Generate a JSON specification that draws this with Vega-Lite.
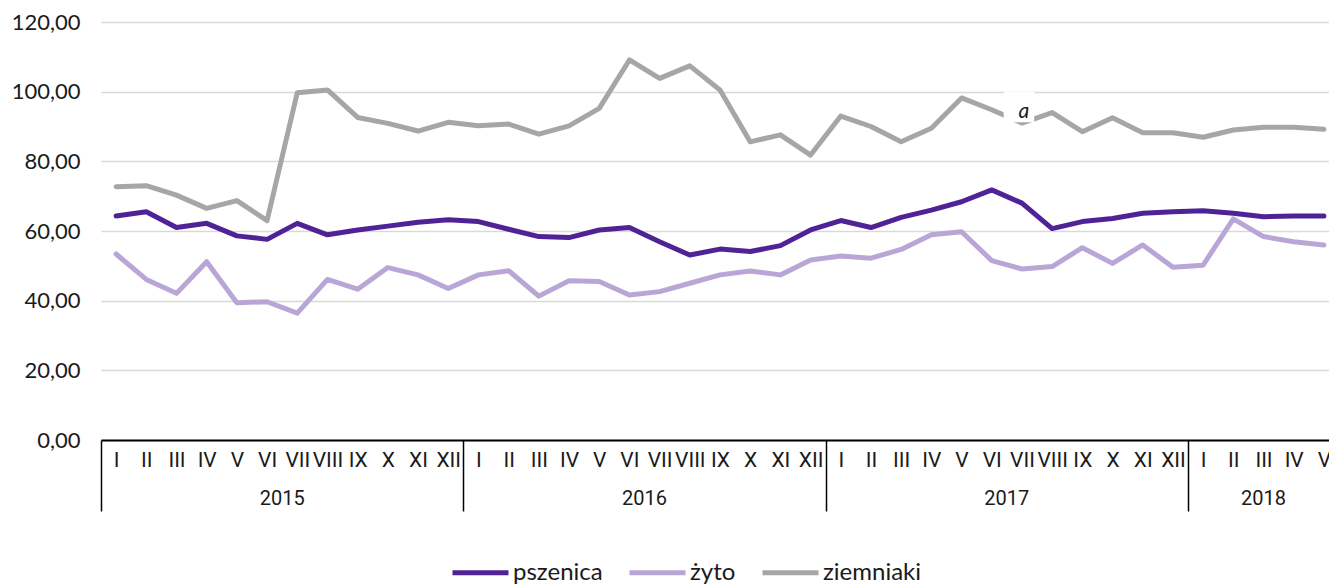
{
  "$schema": "https://vega.github.io/schema/vega-lite/v6.json",
  "autosize": "none",
  "width": 1228,
  "height": 418,
  "padding": {"left": 101, "top": 22, "right": 0, "bottom": 145},
  "background": "#ffffff",
  "config": {"view": {"stroke": null}, "font": "Lato"},
  "datasets": {
    "prices": [
      {"m": "2015-I", "pszenica": 64.3, "żyto": 53.4, "ziemniaki": 72.7},
      {"m": "2015-II", "pszenica": 65.5, "żyto": 46.1, "ziemniaki": 73.0},
      {"m": "2015-III", "pszenica": 61.0, "żyto": 42.1, "ziemniaki": 70.3},
      {"m": "2015-IV", "pszenica": 62.2, "żyto": 51.2, "ziemniaki": 66.5},
      {"m": "2015-V", "pszenica": 58.6, "żyto": 39.4, "ziemniaki": 68.7},
      {"m": "2015-VI", "pszenica": 57.6, "żyto": 39.7, "ziemniaki": 63.0},
      {"m": "2015-VII", "pszenica": 62.2, "żyto": 36.4, "ziemniaki": 99.7},
      {"m": "2015-VIII", "pszenica": 58.9, "żyto": 46.1, "ziemniaki": 100.5},
      {"m": "2015-IX", "pszenica": 60.3, "żyto": 43.3, "ziemniaki": 92.6},
      {"m": "2015-X", "pszenica": 61.4, "żyto": 49.5, "ziemniaki": 90.9},
      {"m": "2015-XI", "pszenica": 62.5, "żyto": 47.4, "ziemniaki": 88.7},
      {"m": "2015-XII", "pszenica": 63.2, "żyto": 43.5, "ziemniaki": 91.2},
      {"m": "2016-I", "pszenica": 62.7, "żyto": 47.4, "ziemniaki": 90.2},
      {"m": "2016-II", "pszenica": 60.5, "żyto": 48.6, "ziemniaki": 90.7},
      {"m": "2016-III", "pszenica": 58.4, "żyto": 41.3, "ziemniaki": 87.8},
      {"m": "2016-IV", "pszenica": 58.1, "żyto": 45.7, "ziemniaki": 90.2},
      {"m": "2016-V", "pszenica": 60.3, "żyto": 45.5, "ziemniaki": 95.2},
      {"m": "2016-VI", "pszenica": 61.0, "żyto": 41.6, "ziemniaki": 109.1},
      {"m": "2016-VII", "pszenica": 56.9, "żyto": 42.6, "ziemniaki": 103.8},
      {"m": "2016-VIII", "pszenica": 53.1, "żyto": 45.0, "ziemniaki": 107.4},
      {"m": "2016-IX", "pszenica": 54.8, "żyto": 47.4, "ziemniaki": 100.5},
      {"m": "2016-X", "pszenica": 54.1, "żyto": 48.5, "ziemniaki": 85.6},
      {"m": "2016-XI", "pszenica": 55.8, "żyto": 47.4, "ziemniaki": 87.6},
      {"m": "2016-XII", "pszenica": 60.3, "żyto": 51.7, "ziemniaki": 81.8},
      {"m": "2017-I", "pszenica": 63.0, "żyto": 52.8, "ziemniaki": 93.0},
      {"m": "2017-II", "pszenica": 61.0, "żyto": 52.2, "ziemniaki": 90.0},
      {"m": "2017-III", "pszenica": 63.9, "żyto": 54.7, "ziemniaki": 85.6},
      {"m": "2017-IV", "pszenica": 66.0, "żyto": 58.9, "ziemniaki": 89.5},
      {"m": "2017-V", "pszenica": 68.4, "żyto": 59.8, "ziemniaki": 98.2},
      {"m": "2017-VI", "pszenica": 71.8, "żyto": 51.5, "ziemniaki": 94.8},
      {"m": "2017-VII", "pszenica": 68.0, "żyto": 49.1, "ziemniaki": 91.0},
      {"m": "2017-VIII", "pszenica": 60.7, "żyto": 49.8, "ziemniaki": 94.0},
      {"m": "2017-IX", "pszenica": 62.7, "żyto": 55.2, "ziemniaki": 88.5},
      {"m": "2017-X", "pszenica": 63.6, "żyto": 50.7, "ziemniaki": 92.5},
      {"m": "2017-XI", "pszenica": 65.1, "żyto": 56.0, "ziemniaki": 88.2},
      {"m": "2017-XII", "pszenica": 65.5, "żyto": 49.6, "ziemniaki": 88.2},
      {"m": "2018-I", "pszenica": 65.8, "żyto": 50.2, "ziemniaki": 86.9},
      {"m": "2018-II", "pszenica": 65.1, "żyto": 63.5, "ziemniaki": 89.0},
      {"m": "2018-III", "pszenica": 64.1, "żyto": 58.4, "ziemniaki": 89.8},
      {"m": "2018-IV", "pszenica": 64.3, "żyto": 56.9, "ziemniaki": 89.8},
      {"m": "2018-V", "pszenica": 64.3, "żyto": 56.0, "ziemniaki": 89.2}
    ],
    "yearsFull": [
      {"year": "2015", "m": "2015-VI"},
      {"year": "2016", "m": "2016-VI"},
      {"year": "2017", "m": "2017-VI"}
    ],
    "yearsPart": [
      {"year": "2018", "m": "2018-III"}
    ],
    "notes": [
      {"m": "2017-VII", "value": 91.0, "note": "a"}
    ]
  },
  "layer": [
    {
      "data": {"name": "prices"},
      "transform": [{"fold": ["pszenica", "żyto", "ziemniaki"], "as": ["produkt", "cena"]}],
      "mark": {"type": "line", "strokeWidth": 5, "strokeCap": "round", "strokeJoin": "round"},
      "encoding": {
        "x": {
          "field": "m", "type": "ordinal", "sort": null,
          "scale": {"type": "band", "paddingInner": 0, "paddingOuter": 0, "range": [0, 1238]},
          "axis": {
            "title": null,
            "domainColor": "#000000", "domainWidth": 2,
            "tickBand": "extent", "tickSize": 71, "tickColor": "#000000", "tickWidth": 1.5,
            "tickOpacity": {"condition": {"test": "datum.extra || split(datum.value, '-')[1] == 'XII'", "value": 1}, "value": 0},
            "labelExpr": "split(datum.value, '-')[1]",
            "labelPadding": -51, "labelBaseline": "middle", "labelAngle": 0, "labelOverlap": false,
            "labelFont": "Liberation Sans Narrow, Roboto", "labelFontSize": 21, "labelColor": "#1a1a1a",
            "grid": false
          }
        },
        "y": {
          "field": "cena", "type": "quantitative",
          "scale": {"domain": [0, 120], "nice": false, "zero": true},
          "axis": {
            "title": null, "domain": false, "ticks": false,
            "values": [0, 20, 40, 60, 80, 100, 120],
            "labelExpr": "replace(format(datum.value, '.2f'), '.', ',')",
            "labelPadding": 21, "labelFont": "Lato", "labelFontSize": 22, "labelColor": "#1a1a1a",
            "grid": true, "gridColor": "#d9d9d9", "gridWidth": 1.5
          }
        },
        "color": {
          "field": "produkt", "type": "nominal",
          "scale": {"domain": ["pszenica", "żyto", "ziemniaki"], "range": ["#4f2396", "#b9a6d6", "#a6a6a6"]},
          "legend": {
            "title": null, "orient": "none", "direction": "horizontal",
            "legendX": 349, "legendY": 520,
            "symbolType": "stroke", "symbolSize": 3136, "symbolStrokeWidth": 5,
            "labelFont": "Lato", "labelFontSize": 24, "labelColor": "#1a1a1a",
            "labelOffset": 2, "columnPadding": 16, "padding": 0
          }
        }
      }
    },
    {
      "data": {"name": "yearsFull"},
      "mark": {"type": "text", "baseline": "middle", "dy": 59, "fontSize": 20, "font": "Liberation Sans Narrow, Roboto", "color": "#1a1a1a"},
      "encoding": {
        "x": {"field": "m", "type": "ordinal", "sort": null, "bandPosition": 1},
        "y": {"datum": 0, "type": "quantitative"},
        "text": {"field": "year"}
      }
    },
    {
      "data": {"name": "yearsPart"},
      "mark": {"type": "text", "baseline": "middle", "dy": 59, "fontSize": 20, "font": "Liberation Sans Narrow, Roboto", "color": "#1a1a1a"},
      "encoding": {
        "x": {"field": "m", "type": "ordinal", "sort": null, "bandPosition": 0.5},
        "y": {"datum": 0, "type": "quantitative"},
        "text": {"field": "year"}
      }
    },
    {
      "data": {"name": "notes"},
      "mark": {"type": "square", "filled": true, "color": "#ffffff", "opacity": 1, "size": 930, "yOffset": -16, "xOffset": -3},
      "encoding": {
        "x": {"field": "m", "type": "ordinal", "sort": null},
        "y": {"field": "value", "type": "quantitative"}
      }
    },
    {
      "data": {"name": "notes"},
      "mark": {"type": "text", "baseline": "middle", "fontStyle": "italic", "fontSize": 21, "font": "Lato", "color": "#1a1a1a", "dy": -11, "dx": 2},
      "encoding": {
        "x": {"field": "m", "type": "ordinal", "sort": null},
        "y": {"field": "value", "type": "quantitative"},
        "text": {"field": "note"}
      }
    }
  ]
}
